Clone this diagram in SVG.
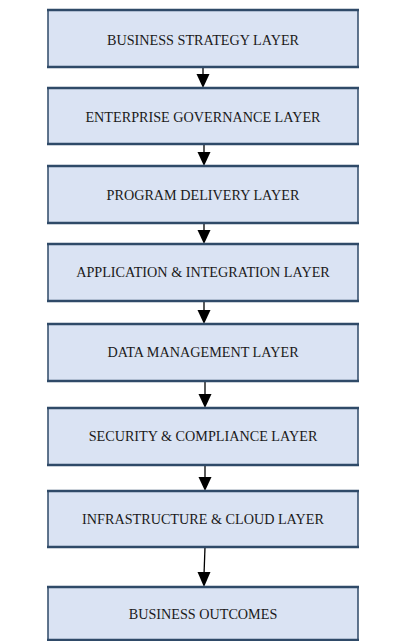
<svg xmlns="http://www.w3.org/2000/svg" width="406" height="641" viewBox="0 0 406 641">
<defs>
<style>
.box{fill:#dae3f3;stroke:#2f4a68;stroke-width:1.5}
.edge{stroke:#2f4a68;stroke-width:2.5}
.lbl{font-family:"Liberation Serif","Times New Roman",serif;font-size:14.2px;fill:#1a1a1a;text-anchor:middle}
.con{stroke:#000;stroke-width:1.3;fill:none}
.head{fill:#000}
</style>
</defs>
<rect width="406" height="641" fill="#fff"/>
<g id="connectors">
<line class="con" x1="203" y1="67" x2="203" y2="77"/><path class="head" d="M196.5,74 L209.5,74 L203,88 Z"/>
<line class="con" x1="204" y1="144" x2="204" y2="154"/><path class="head" d="M197.5,152 L210.5,152 L204,166 Z"/>
<line class="con" x1="204" y1="223" x2="204" y2="232"/><path class="head" d="M197.5,230 L210.5,230 L204,244 Z"/>
<line class="con" x1="204" y1="301" x2="204" y2="312"/><path class="head" d="M197.5,310 L210.5,310 L204,324 Z"/>
<line class="con" x1="205" y1="381" x2="205" y2="396"/><path class="head" d="M198.5,394 L211.5,394 L205,408 Z"/>
<line class="con" x1="205" y1="465" x2="205" y2="479"/><path class="head" d="M198.5,477 L211.5,477 L205,491 Z"/>
<line class="con" x1="205" y1="547" x2="204" y2="575"/><path class="head" d="M197.5,572 L210.5,572 L204,587 Z"/>
</g>
<g id="n1"><rect class="box" x="48" y="10" width="310" height="57"/><line class="edge" x1="47" y1="10" x2="359" y2="10"/><line class="edge" x1="47" y1="67" x2="359" y2="67"/><text class="lbl" x="203" y="45">BUSINESS STRATEGY LAYER</text></g>
<g id="n2"><rect class="box" x="48" y="88" width="310" height="56"/><line class="edge" x1="47" y1="88" x2="359" y2="88"/><line class="edge" x1="47" y1="144" x2="359" y2="144"/><text class="lbl" x="203" y="122">ENTERPRISE GOVERNANCE LAYER</text></g>
<g id="n3"><rect class="box" x="48" y="166" width="310" height="57"/><line class="edge" x1="47" y1="166" x2="359" y2="166"/><line class="edge" x1="47" y1="223" x2="359" y2="223"/><text class="lbl" x="203" y="200">PROGRAM DELIVERY LAYER</text></g>
<g id="n4"><rect class="box" x="48" y="244" width="310" height="57"/><line class="edge" x1="47" y1="244" x2="359" y2="244"/><line class="edge" x1="47" y1="301" x2="359" y2="301"/><text class="lbl" x="203" y="277">APPLICATION &amp; INTEGRATION LAYER</text></g>
<g id="n5"><rect class="box" x="48" y="324" width="310" height="57"/><line class="edge" x1="47" y1="324" x2="359" y2="324"/><line class="edge" x1="47" y1="381" x2="359" y2="381"/><text class="lbl" x="203" y="357">DATA MANAGEMENT LAYER</text></g>
<g id="n6"><rect class="box" x="48" y="408" width="310" height="57"/><line class="edge" x1="47" y1="408" x2="359" y2="408"/><line class="edge" x1="47" y1="465" x2="359" y2="465"/><text class="lbl" x="203" y="441">SECURITY &amp; COMPLIANCE LAYER</text></g>
<g id="n7"><rect class="box" x="48" y="491" width="310" height="56"/><line class="edge" x1="47" y1="491" x2="359" y2="491"/><line class="edge" x1="47" y1="547" x2="359" y2="547"/><text class="lbl" x="203" y="524">INFRASTRUCTURE &amp; CLOUD LAYER</text></g>
<g id="n8"><rect class="box" x="48" y="587" width="310" height="53"/><line class="edge" x1="47" y1="587" x2="359" y2="587"/><line class="edge" x1="47" y1="640" x2="359" y2="640"/><text class="lbl" x="203" y="619">BUSINESS OUTCOMES</text></g>
</svg>
